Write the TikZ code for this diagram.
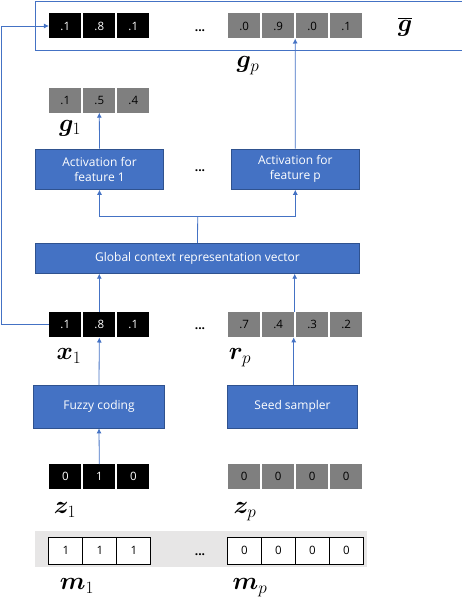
\documentclass[tikz,border=0pt]{standalone}
\usepackage{fontspec}
\setmainfont{Open Sans}
\usepackage{bm}
\usetikzlibrary{arrows.meta}
\definecolor{mblue}{HTML}{4472C4}
\definecolor{dblue}{HTML}{2F528F}
\definecolor{cgray}{HTML}{7F7F7F}
\definecolor{band}{HTML}{E7E6E6}
\tikzset{
  cellbase/.style={minimum width=32.3pt, minimum height=25pt, inner sep=0pt, font=\fontsize{11.5}{11.5}\selectfont},
  bcell/.style={cellbase, fill=black, text=white},
  gcell/.style={cellbase, fill=cgray, text=black},
  wcell/.style={cellbase, minimum width=34pt, minimum height=27pt, fill=white, draw=black, line width=0.9pt},
  bluebox/.style={fill=mblue, draw=dblue, line width=0.8pt, text=white, inner sep=0pt, align=center, font=\fontsize{12}{15}\selectfont},
  arr/.style={draw=mblue, line width=0.8pt, -{Latex[length=5pt,width=5pt]}},
  conn/.style={draw=mblue, line width=0.8pt},
  lab/.style={inner sep=0pt, font=\fontsize{23}{23}\selectfont},
  dots/.style={inner sep=0pt, font=\fontsize{12}{12}\selectfont\bfseries},
}
\begin{document}
\begin{tikzpicture}[x=1pt,y=-1pt]
\useasboundingbox (0,0) rectangle (462,602);
% top frame
\draw[mblue, line width=0.8pt] (462.5,1) -- (35.7,1) -- (35.7,50) -- (462.5,50);
% band
\fill[band] (35,531) rectangle (366.7,567.3);

% top row
\node[bcell] (t1) at (65.3,26) {.1};
\node[bcell] (t2) at (99.3,26) {.8};
\node[bcell] (t3) at (133.3,26) {.1};
\node[dots] (d1) at (200,31) {...};
\node[gcell] (t4) at (244.2,26) {.0};
\node[gcell] (t5) at (278.2,26) {.9};
\node[gcell] (t6) at (312.2,26) {.0};
\node[gcell] (t7) at (346.2,26) {.1};
\node[lab] (lgbar) at (405,27) {$\overline{\bm{g}}$};
\node[lab] (lgp) at (248,66) {$\bm{g}_p$};
\coordinate (tin) at (295.2,38.5);

% g1 row
\node[gcell] (g1) at (65.3,100) {.1};
\node[gcell] (g2) at (99.3,100) {.5};
\node[gcell] (g3) at (133.3,100) {.4};
\node[lab] (lg1) at (70,128) {$\bm{g}_1$};

% activation boxes
\node[bluebox, minimum width=127.6pt, minimum height=40.3pt] (act1) at (99.5,169.2) {Activation for\\feature 1};
\node[bluebox, minimum width=128pt, minimum height=40.3pt] (actp) at (295.3,169.2) {Activation for\\feature p};
\node[dots] (d2) at (200,171) {...};

% global box
\node[bluebox, minimum width=323.6pt, minimum height=30pt] (glob) at (197.5,258.3) {Global context representation vector};
\coordinate (br) at (197.7,216.7);

% x1 / rp row
\node[bcell] (x1) at (65.3,324.8) {.1};
\node[bcell] (x2) at (99.3,324.8) {.8};
\node[bcell] (x3) at (133.3,324.8) {.1};
\node[dots] (d3) at (200,329) {...};
\node[gcell] (r1) at (244.2,324.8) {.7};
\node[gcell] (r2) at (278.2,324.8) {.4};
\node[gcell] (r3) at (312.2,324.8) {.3};
\node[gcell] (r4) at (346.2,324.8) {.2};
\node[lab] (lx1) at (69,356) {$\bm{x}_1$};
\node[lab] (lrp) at (240,358) {$\bm{r}_p$};
\coordinate (rout) at (294.7,312.3);
\coordinate (rin) at (293.7,337.3);
\coordinate (fb) at (1.2,0);

% fuzzy / seed
\node[bluebox, minimum width=130.6pt, minimum height=42.3pt] (fuzzy) at (99,406.8) {Fuzzy coding};
\node[bluebox, minimum width=130.4pt, minimum height=42.3pt] (seed) at (292.5,406.8) {Seed sampler};

% z row
\node[bcell] (z1) at (65.3,476.7) {0};
\node[bcell] (z2) at (99.3,476.7) {1};
\node[bcell] (z3) at (133.3,476.7) {0};
\node[gcell] (zp1) at (244.2,476.7) {0};
\node[gcell] (zp2) at (278.2,476.7) {0};
\node[gcell] (zp3) at (312.2,476.7) {0};
\node[gcell] (zp4) at (346.2,476.7) {0};
\node[lab] (lz1) at (65,510) {$\bm{z}_1$};
\node[lab] (lzp) at (245,512) {$\bm{z}_p$};

% m row
\node[wcell] (m1) at (65.8,550.8) {1};
\node[wcell] (m2) at (99.8,550.8) {1};
\node[wcell] (m3) at (133.8,550.8) {1};
\node[dots] (d4) at (200,555) {...};
\node[wcell] (mp1) at (244.3,550.8) {0};
\node[wcell] (mp2) at (278.3,550.8) {0};
\node[wcell] (mp3) at (312.3,550.8) {0};
\node[wcell] (mp4) at (346.3,550.8) {0};
\node[lab] (lm1) at (77,586) {$\bm{m}_1$};
\node[lab] (lmp) at (250,588) {$\bm{m}_p$};

% connectors
\draw[arr] (z2.north) -- (fuzzy.south);
\draw[arr] (fuzzy.north) -- (x2.south);
\draw[arr] (seed.north -| rin) -- (rin);
\draw[arr] (x2.north) -- (glob.south -| x2.north);
\draw[arr] (rout) -- (glob.south -| rout);
\draw[conn] (glob.north) -- (br);
\draw[arr] (br) -| (act1.south);
\draw[arr] (br) -| (actp.south);
\draw[arr] (act1.north) -- (g2.south);
\draw[arr] (actp.north) -- (tin);
\draw[arr] (x1.west) -- (x1.west -| fb) |- (t1.west);
\end{tikzpicture}
\end{document}
